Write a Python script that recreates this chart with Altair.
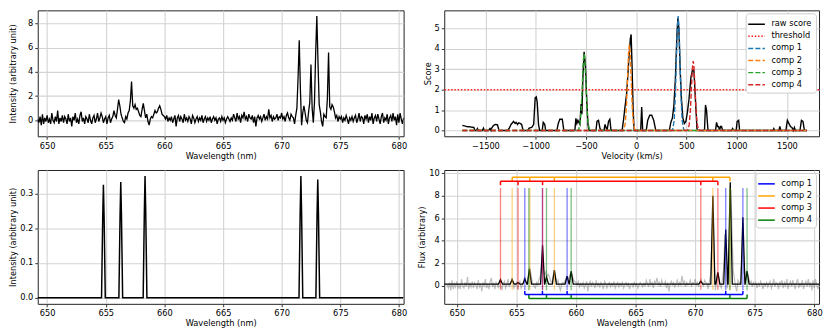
import altair as alt
import pandas as pd

FONT = "DejaVu Sans"
FS = 8.3

# ---------------- observed spectrum (top-left, grey in bottom-right) ----------------
WL_START = 649.2
WL_STEP = 0.1
OBS_INTENSITY = [
    0.1, -0.2, 0.3, -0.4, 0.5, -0.3, 0.2, -0.1,                      # 649.2-649.9
    0.4, -0.2, 0.1, -0.3, 0.6, 0.0, -0.2, 0.3, -0.1, 0.8,            # 650
    -0.3, 0.2, -0.1, 0.4, -0.2, 0.3, 0.1, -0.3, 0.5, -0.1,           # 651
    0.2, -0.5, 0.3, 0.0, 0.6, -0.2, 0.1, -0.3, 0.4, 0.7,             # 652
    -0.1, 0.2, -0.3, 0.3, 0.1, -0.2, 0.5, 0.0, -0.3, 0.2,            # 653
    0.4, -0.2, 0.1, 0.6, -0.1, 0.2, 0.6, 0.3, -0.2, 0.1,             # 654
    0.3, -0.3, 0.2, 0.4, -0.2, 0.1, 0.3, 0.8, 0.4, 0.2,              # 655
    0.9, 1.7, 1.2, 0.5, 0.2, -0.1, -0.2, 0.3, 0.1, 0.6,              # 656
    0.8, 1.6, 3.2, 1.2, 1.0, 1.3, 0.9, 1.0, 0.7, 0.4,                # 657
    0.3, 0.9, 1.4, 0.8, 0.2, 0.5, -0.1, -0.4, 0.1, 0.3,              # 658
    0.2, 0.5, 0.8, 0.6, 0.7, 1.0, 1.2, 0.9, 0.5, 0.4,                # 659
    0.3, 0.1, 0.4, -0.1, 0.2, 0.0, 0.3, -0.2, 0.1, 0.4,              # 660
    -0.5, 0.2, 0.4, -0.1, 0.3, 0.1, -0.2, 0.5, 0.0, 0.2,             # 661
    -0.1, 0.3, 0.1, -0.3, 0.4, 0.2, -0.2, 0.1, 0.3, -0.1,            # 662
    0.2, 0.0, 0.4, -0.2, 0.1, 0.3, -0.1, 0.2, 0.0, 0.3,              # 663
    -0.2, 0.1, 0.3, 0.0, 0.2, -0.3, 0.1, 0.2, -0.1, 0.3,             # 664
    0.0, 0.2, -0.2, 0.1, 0.3, 0.1, -0.1, 0.2, 0.0, 0.5,              # 665
    0.2, -0.1, 0.6, 0.1, 0.3, -0.2, 0.4, 0.2, 0.7, 0.1,              # 666
    0.3, -0.1, 0.5, 0.2, 0.1, 0.4, -0.2, 0.3, -0.5, 0.2,             # 667
    0.4, 0.1, 0.3, -0.1, 0.2, 0.5, 0.0, 0.3, 0.1, 0.9,               # 668
    0.2, 0.4, -0.1, 0.3, 0.1, 0.2, 0.5, 0.0, 0.3, 0.2,               # 669
    0.6, 0.1, 0.3, -0.1, 0.4, 0.6, 0.2, 0.0, 0.5, 0.3,               # 670
    0.2, -0.3, 0.4, 1.0, 3.5, 6.6, 2.5, -0.4, 0.6, 1.2,              # 671
    0.6, 0.0, -0.2, 0.7, 1.5, 4.6, 1.0, -0.2, 1.5, 5.5,              # 672
    8.6, 4.8, 1.3, 0.7, -0.1, -0.5, 0.5, 0.3, 0.2, 1.8,              # 673
    5.6, 1.1, 0.9, 1.3, 1.1, 0.7, 0.2, 0.4, -0.1, 0.3,               # 674
    0.1, 0.3, -0.2, 0.2, 0.0, 0.4, 0.1, -0.3, 0.2, 0.0,              # 675
    0.3, -0.1, 0.2, 0.4, -0.2, 0.1, 0.6, -0.1, 0.3, 0.2,             # 676
    -0.3, 0.4, 0.1, 0.5, -0.2, 0.3, 0.0, 0.6, -0.3, 0.2,             # 677
    0.4, -0.1, 0.5, 0.1, -0.3, 0.3, 0.6, -0.2, 0.2, 0.0,             # 678
    0.5, -0.3, 0.2, 0.4, -0.1, 0.6, 0.0, 0.3, -0.4, 0.5,             # 679
    -0.2, 0.6, 0.1, -0.3, 0.2,                                       # 680.0-680.4
]

# ---------------- template spectrum (bottom-left) ----------------
TEMPLATE_WL = [649.2,
               654.64, 654.74, 654.80, 654.86, 654.96,
               656.12, 656.22, 656.28, 656.34, 656.44,
               658.19, 658.29, 658.35, 658.41, 658.51,
               671.48, 671.58, 671.64, 671.70, 671.80,
               672.92, 673.02, 673.08, 673.14, 673.24,
               680.4]
TEMPLATE_I = [0.0,
              0.0, 0.23, 0.325, 0.23, 0.0,
              0.0, 0.235, 0.333, 0.235, 0.0,
              0.0, 0.245, 0.35, 0.245, 0.0,
              0.0, 0.245, 0.35, 0.245, 0.0,
              0.0, 0.24, 0.34, 0.24, 0.0,
              0.0]

# ---------------- cross-correlation score (top-right) ----------------
RAW_V = [-1730, -1690, -1640, -1615, -1605, -1590, -1580, -1570, -1530, -1520, -1510,
         -1470, -1455, -1445, -1440, -1420, -1400, -1380, -1365, -1280, -1265, -1245,
         -1220, -1205, -1195, -1180, -1170, -1155, -1140, -1125, -1080, -1065, -1040,
         -1020, -1005, -995, -985, -972, -960, -935, -925, -910, -900, -790, -775, -760,
         -735, -720, -610, -600, -590, -580, -560, -548, -540, -530, -518, -505, -492,
         -480, -470, -400, -390, -375, -360, -345, -320, -310, -300, -290, -275, -262,
         -250, -140, -125, -110, -95, -75, -58, -50, -40, -30, -20, 45, 55, 65, 100,
         115, 135, 155, 175, 195, 330, 345, 360, 375, 390, 405, 415, 425, 438, 450,
         465, 480, 495, 510, 525, 545, 562, 575, 590, 605, 615, 680, 690, 700, 715,
         790, 800, 810, 820, 830, 840, 850, 860, 950, 960, 970, 995, 1005, 1020, 1030,
         1360, 1370, 1380, 1420, 1430, 1440, 1490, 1505, 1520, 1535, 1550, 1565, 1575,
         1585, 1630, 1645, 1660, 1675, 1700]
RAW_S = [0.25, 0.2, 0.17, 0.15, 0.0, 0.0, 0.1, 0.0, 0.0, 0.12, 0.0,
         0.0, 0.1, 0.0, 0.1, 0.25, 0.3, 0.28, 0.0, 0.0, 0.1, 0.3,
         0.45, 0.35, 0.4, 0.3, 0.38, 0.35, 0.3, 0.0, 0.0, 0.12, 0.15,
         0.3, 1.6, 1.65, 1.4, 0.3, 0.0, 0.0, 0.4, 0.3, 0.0, 0.0, 0.35, 0.55,
         0.55, 0.0, 0.0, 0.6, 0.35, 0.5, 0.3, 1.3, 0.8, 2.6, 3.85, 3.2, 1.5,
         0.3, 0.0, 0.0, 0.45, 0.5, 0.1, 0.0, 0.0, 0.3, 0.15, 0.0, 0.45, 0.55,
         0.0, 0.0, 0.55, 1.2, 1.8, 3.3, 4.5, 4.7, 3.0, 1.0, 0.0, 0.0, 1.15, 0.0, 0.0,
         0.5, 0.75, 0.75, 0.5, 0.0, 0.0, 0.4, 0.6, 1.2, 2.5, 4.6, 5.5, 5.0, 3.0, 1.6,
         0.6, 0.35, 0.45, 0.9, 1.5, 2.6, 3.0, 2.9, 1.5, 0.1, 0.0, 0.0, 1.25, 1.0, 0.0,
         0.0, 0.4, 0.2, 0.2, 0.0, 0.2, 0.2, 0.0, 0.0, 0.1, 0.0, 0.0, 0.45, 0.5, 0.0,
         0.0, 0.1, 0.0, 0.0, 0.2, 0.0, 0.0, 0.5, 0.35, 0.2, 0.15, 0.0, 0.15,
         0.0, 0.0, 0.5, 0.45, 0.0, 0.0]

THRESHOLD = 2.0

COMP1_V = [-1730, 348, 363, 378, 390, 400, 410, 418, 426, 436, 446, 458, 473, 488, 1700]
COMP1_S = [0, 0, 0.05, 0.48, 1.67, 3.4, 5.07, 5.6, 5.07, 3.4, 1.67, 0.48, 0.05, 0, 0]
COMP2_V = [-1730, -138, -123, -108, -96, -86, -76, -68, -60, -50, -40, -28, -13, 2, 1700]
COMP2_S = [0, 0, 0.04, 0.36, 1.25, 2.55, 3.8, 4.2, 3.8, 2.55, 1.25, 0.36, 0.04, 0, 0]
COMP3_V = [-1730, -588, -573, -558, -546, -536, -526, -518, -510, -500, -490, -478, -463, -448, 1700]
COMP3_S = [0, 0, 0.04, 0.32, 1.12, 2.28, 3.4, 3.75, 3.4, 2.28, 1.12, 0.32, 0.04, 0, 0]
COMP4_V = [-1730, 498, 513, 528, 540, 550, 560, 568, 576, 586, 596, 608, 623, 638, 1700]
COMP4_S = [0, 0, 0.03, 0.29, 1.01, 2.06, 3.08, 3.4, 3.08, 2.06, 1.01, 0.29, 0.03, 0, 0]

SCORE_SERIES = ["raw score", "threshold", "comp 1", "comp 2", "comp 3", "comp 4"]
SCORE_COLORS = ["black", "#ff2020", "#1f77b4", "#ff7f0e", "#2ca02c", "#d62728"]
SCORE_DASHES = [[1, 0], [1.5, 1.8], [5, 2.2], [5, 2.2], [5, 2.2], [5, 2.2]]

# ---------------- decomposition (bottom-right) ----------------
MODEL_WL = [648.95,
            653.50, 653.67, 653.84, 654.48, 654.65, 654.82, 654.97, 655.14, 655.31,
            655.54, 655.71, 655.88, 655.93, 656.10, 656.27, 657.03, 657.20, 657.37,
            657.38, 657.53, 657.70, 658.02, 658.19, 658.36, 659.09, 659.26, 659.43,
            659.44, 659.60, 659.77, 670.31, 670.48, 670.65, 671.32, 671.49, 671.66,
            671.74, 671.91, 672.08, 672.40, 672.57, 672.74, 672.77, 672.95, 673.12,
            673.84, 674.01, 674.18, 674.20, 674.36, 674.53,
            680.4]
MODEL_FLUX = [0.15,
              0.15, 0.55, 0.15, 0.15, 0.55, 0.15, 0.15, 0.3, 0.15,
              0.15, 0.6, 0.15, 0.15, 1.5, 0.15, 0.15, 3.6, 0.15,
              0.15, 0.8, 0.15, 0.15, 1.4, 0.15, 0.15, 0.85, 0.15,
              0.15, 1.3, 0.15, 0.15, 0.4, 0.15, 0.15, 8.0, 0.15,
              0.15, 1.2, 0.15, 0.15, 5.0, 0.15, 0.15, 9.2, 0.15,
              0.15, 6.1, 0.15, 0.15, 1.3, 0.15,
              0.15]

COMP_NAMES = ["comp 1", "comp 2", "comp 3", "comp 4"]
COMP_COLORS = ["blue", "orange", "red", "green"]
COMP_LINES = [
    [655.71, 657.19, 659.26, 672.57, 674.01],
    [654.65, 656.13, 658.19, 671.49, 672.92],
    [653.67, 655.14, 657.20, 670.48, 671.91],
    [656.05, 657.53, 659.60, 672.92, 674.36],
]
# light guide lines (bottom, top), bracket ticks (from, to) and bracket level
GUIDE_BOTTOM = [-0.4, -0.35, -0.35, -0.4]
GUIDE_TOP = [8.7, 8.7, 8.7, 8.7]
TICK_FROM = [-0.45, 9.3, 8.95, -0.78]
BRACKET_LEVEL = [-0.78, 9.65, 9.3, -1.12]

# ---------------- frames ----------------
obs_wl = [round(WL_START + i * WL_STEP, 2) for i in range(len(OBS_INTENSITY))]
obs_df = pd.DataFrame({"wl": obs_wl, "flux": OBS_INTENSITY})
tmpl_df = pd.DataFrame({"wl": TEMPLATE_WL, "flux": TEMPLATE_I})
raw_df = pd.DataFrame({"v": RAW_V, "score": RAW_S, "series": "raw score"})
comp_frames = []
for name, vv, ss in [("comp 1", COMP1_V, COMP1_S), ("comp 2", COMP2_V, COMP2_S),
                     ("comp 3", COMP3_V, COMP3_S), ("comp 4", COMP4_V, COMP4_S)]:
    comp_frames.append(pd.DataFrame({"v": vv, "score": ss, "series": name}))
comps_df = pd.concat(comp_frames, ignore_index=True)
thr_df = pd.DataFrame({"score": [THRESHOLD], "series": ["threshold"]})
model_df = pd.DataFrame({"wl": MODEL_WL, "flux": MODEL_FLUX})

guide_rows, tick_rows, bar_rows = [], [], []
for i, name in enumerate(COMP_NAMES):
    for w in COMP_LINES[i]:
        guide_rows.append({"comp": name, "wl": w, "flux": GUIDE_BOTTOM[i], "flux2": GUIDE_TOP[i]})
        tick_rows.append({"comp": name, "wl": w, "flux": TICK_FROM[i], "flux2": BRACKET_LEVEL[i]})
    bar_rows.append({"comp": name, "wl": min(COMP_LINES[i]), "wl2": max(COMP_LINES[i]),
                     "flux": BRACKET_LEVEL[i]})
guide_df = pd.DataFrame(guide_rows)
tick_df = pd.DataFrame(tick_rows)
bar_df = pd.DataFrame(bar_rows)

# ---------------- helpers ----------------
WL_TICKS = [650, 655, 660, 665, 670, 675, 680]


def ax(title, values, fmt=None, left=False):
    kw = dict(title=title, values=values)
    if fmt:
        kw["format"] = fmt
    if left:
        kw["minExtent"] = 18
        kw["maxExtent"] = 18
    return alt.Axis(**kw)


def legend_style(row_pad=0.5):
    return alt.Legend(title=None, orient="top-right", offset=3, padding=4,
                      fillColor="white", strokeColor="#cccccc", cornerRadius=3,
                      symbolType="M-1.4,0L1.4,0", symbolSize=144, symbolStrokeWidth=1.5,
                      symbolOpacity=1, labelFont=FONT, labelFontSize=FS,
                      labelColor="black", labelOffset=8, rowPadding=row_pad)


TW, TH = 369, 127
RW = 378
BH = 135

# top-left
tl = alt.Chart(obs_df).mark_line(color="black", strokeWidth=1.3, clip=True).encode(
    x=alt.X("wl:Q", scale=alt.Scale(domain=[649.2, 680.4], nice=False, zero=False),
            axis=ax("Wavelength (nm)", WL_TICKS)),
    y=alt.Y("flux:Q", scale=alt.Scale(domain=[-1.32, 9.07], nice=False, zero=False),
            axis=ax("Intensity (arbitrary unit)", [0, 2, 4, 6, 8], left=True)),
).properties(width=TW, height=TH)

# top-right
score_color = alt.Color("series:N", scale=alt.Scale(domain=SCORE_SERIES, range=SCORE_COLORS),
                        legend=legend_style(1.2))
score_dash = alt.StrokeDash("series:N", scale=alt.Scale(domain=SCORE_SERIES, range=SCORE_DASHES),
                            legend=legend_style(1.2))
vx = alt.X("v:Q", scale=alt.Scale(domain=[-1910, 1820], nice=False, zero=False),
           axis=ax("Velocity (km/s)", [-1500, -1000, -500, 0, 500, 1000, 1500], fmt="d"))
vy = alt.Y("score:Q", scale=alt.Scale(domain=[-0.28, 5.88], nice=False, zero=False),
           axis=ax("Score", [0, 1, 2, 3, 4, 5]))
tr_raw = alt.Chart(raw_df).mark_line(strokeWidth=1.4, clip=True).encode(
    x=vx, y=vy, color=score_color, strokeDash=score_dash)
tr_thr = alt.Chart(thr_df).mark_rule(strokeWidth=1.5).encode(
    y=vy, color=score_color, strokeDash=score_dash)
tr_comp = alt.Chart(comps_df).mark_line(strokeWidth=1.4, clip=True).encode(
    x=vx, y=vy, color=score_color, strokeDash=score_dash, detail="series:N")
tr = alt.layer(tr_raw, tr_thr, tr_comp).properties(width=RW, height=TH)

# bottom-left
bl = alt.Chart(tmpl_df).mark_line(color="black", strokeWidth=1.5, clip=True).encode(
    x=alt.X("wl:Q", scale=alt.Scale(domain=[649.2, 680.4], nice=False, zero=False),
            axis=ax("Wavelength (nm)", WL_TICKS)),
    y=alt.Y("flux:Q", scale=alt.Scale(domain=[-0.0175, 0.3675], nice=False, zero=False),
            axis=ax("Intensity (arbitrary unit)", [0.0, 0.1, 0.2, 0.3], fmt=".1f", left=True)),
).properties(width=TW, height=BH)

# bottom-right
bx_scale = alt.Scale(domain=[648.95, 680.4], nice=False, zero=False)
by_scale = alt.Scale(domain=[-1.6, 10.3], nice=False, zero=False)
bx = alt.X("wl:Q", scale=bx_scale, axis=ax("Wavelength (nm)", WL_TICKS))
by = alt.Y("flux:Q", scale=by_scale, axis=ax("Flux (arbitrary)", [0, 2, 4, 6, 8, 10]))
comp_color = alt.Color("comp:N", scale=alt.Scale(domain=COMP_NAMES, range=COMP_COLORS),
                       legend=legend_style(1.2))
br_grey = alt.Chart(obs_df).mark_line(color="#888888", opacity=0.55, strokeWidth=1.2,
                                      clip=True).encode(x=bx, y=by)
br_model = alt.Chart(model_df).mark_line(color="black", strokeWidth=1.3, clip=True).encode(
    x=bx, y=by)
br_guides = alt.Chart(guide_df).mark_rule(strokeWidth=1.3, opacity=0.5).encode(
    x=bx, y=by, y2="flux2:Q", color=comp_color)
br_ticks = alt.Chart(tick_df).mark_rule(strokeWidth=1.5).encode(
    x=bx, y=by, y2="flux2:Q", color=comp_color)
br_bars = alt.Chart(bar_df).mark_rule(strokeWidth=1.5).encode(
    x=bx, x2="wl2:Q", y=by, color=comp_color)
br = alt.layer(br_grey, br_model, br_guides, br_ticks, br_bars).properties(width=RW, height=BH)

chart = alt.concat(
    tl, tr, bl, br, columns=2, spacing={"row": 34, "column": 41},
    bounds="flush", align="each",
).resolve_scale(
    color="independent", strokeDash="independent"
).properties(padding=0).configure_axis(
    labelFont=FONT, titleFont=FONT, labelFontSize=FS, titleFontSize=FS,
    titleFontWeight="normal", labelColor="black", titleColor="black",
    gridColor="#d3d3d3", gridWidth=1.1, domain=False, tickColor="black",
    tickSize=3, tickWidth=0.8, labelPadding=2, titlePadding=2,
).configure_view(stroke="#222222", strokeWidth=1)

chart.save("out.html", embed_options={"renderer": "svg", "actions": False})
